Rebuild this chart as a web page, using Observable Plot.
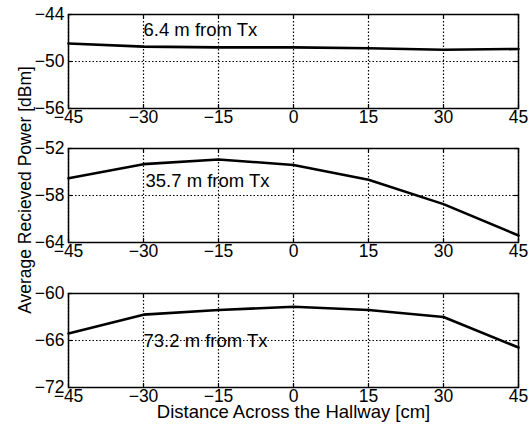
<!DOCTYPE html>
<html><head><meta charset="utf-8">
<script src="https://cdn.jsdelivr.net/npm/d3@7"></script>
<script src="https://cdn.jsdelivr.net/npm/@observablehq/plot@0.6"></script>
<style>
body{margin:0;background:#fff;}
#wrap{position:relative;width:531px;height:428px;overflow:hidden;font-family:"Liberation Sans",Arial,sans-serif;color:#000;}
.panel{position:absolute;left:0;}
#ylab{position:absolute;left:25px;top:190px;transform:translate(-50%,-50%) rotate(-90deg);white-space:nowrap;font-size:17.5px;}
</style></head><body><div id="wrap"><div id="ylab">Average Recieved Power [dBm]</div></div>
<script>
const distance = [-45, -30, -15, 0, 15, 30, 45];
const power6 = [-47.7, -48.1, -48.2, -48.2, -48.3, -48.5, -48.4];
const power35 = [-55.8, -54.0, -53.4, -54.1, -56.0, -59.1, -63.1];
const power73 = [-65.1, -62.7, -62.1, -61.7, -62.1, -63.0, -66.9];
const xTicks = [-45, -30, -15, 0, 15, 30, 45];
const yTicks6 = [-56, -50, -44];
const yTicks35 = [-64, -58, -52];
const yTicks73 = [-72, -66, -60];
const labels = ["6.4 m from Tx", "35.7 m from Tx", "73.2 m from Tx"];
const labelX = [-30, -29.6, -30];
const labelY = [-46.0, -56.1, -66.1];
const xTitle = "Distance Across the Hallway [cm]";

const panels = [
  {values: power6, ticks: yTicks6, top: 0, height: 134, mb: 26},
  {values: power35, ticks: yTicks35, top: 134, height: 134, mb: 26},
  {values: power73, ticks: yTicks73, top: 279, height: 149, mb: 41}
];
const font = "'Liberation Sans', Arial, sans-serif";
const wrap = document.getElementById("wrap");
const PH = 94, PW = 450, TL = 4;
panels.forEach((p, i) => {
  const data = distance.map((d, j) => ({d, v: p.values[j]}));
  const marks = [
    Plot.ruleX(xTicks, {x: d => d, stroke: "black", strokeWidth: 1.2, strokeDasharray: "1.5,2"}),
    Plot.ruleY(p.ticks, {y: d => d, stroke: "black", strokeWidth: 1.2, strokeDasharray: "1.5,2"}),
    Plot.ruleX(xTicks, {x: d => d, stroke: "black", strokeWidth: 1.2, insetTop: PH - TL}),
    Plot.ruleX(xTicks, {x: d => d, stroke: "black", strokeWidth: 1.2, insetBottom: PH - TL}),
    Plot.ruleY(p.ticks, {y: d => d, stroke: "black", strokeWidth: 1.2, insetRight: PW - TL}),
    Plot.ruleY(p.ticks, {y: d => d, stroke: "black", strokeWidth: 1.2, insetLeft: PW - TL}),
    Plot.frame({stroke: "#000", strokeWidth: 1.5}),
    Plot.axisX(xTicks, {anchor: "bottom", tickSize: 0, tickPadding: 2, label: null, fontSize: 17.5}),
    Plot.axisY(p.ticks, {anchor: "left", tickSize: 0, tickPadding: 4, label: null, fontSize: 17.5}),
    Plot.line(data, {x: "d", y: "v", stroke: "#000", strokeWidth: 2.6}),
    Plot.text([labels[i]], {x: labelX[i], y: labelY[i], text: d => d, textAnchor: "start", fontSize: 18.5, fill: "#000"})
  ];
  if (i === 2) {
    marks.push(Plot.text([xTitle], {frameAnchor: "bottom", dy: 30, text: d => d, fontSize: 18.5, fill: "#000"}));
  }
  const chart = Plot.plot({
    width: 531, height: p.height,
    marginLeft: 68, marginRight: 13, marginTop: 14, marginBottom: p.mb,
    style: {fontFamily: font, fontSize: "17.5px", color: "#000", background: "transparent"},
    x: {domain: [-45, 45]},
    y: {domain: [p.ticks[0], p.ticks[2]]},
    marks
  });
  chart.classList.add("panel");
  chart.style.top = p.top + "px";
  chart.style.position = "absolute";
  wrap.appendChild(chart);
});
</script>
</body></html>
